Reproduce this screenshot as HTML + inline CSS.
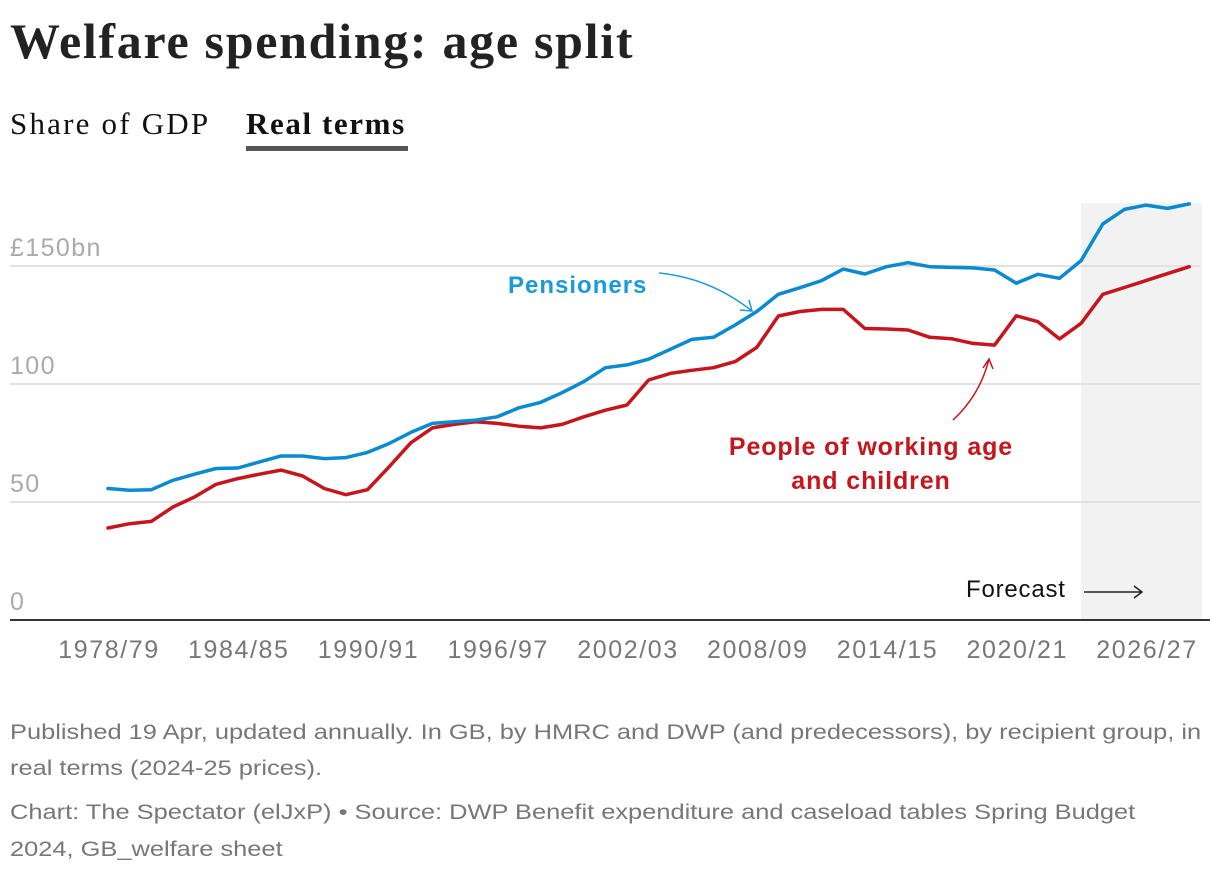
<!DOCTYPE html>
<html><head><meta charset="utf-8">
<style>
body{margin:0;background:#fff;width:1220px;height:874px;overflow:hidden;font-family:"Liberation Sans",sans-serif;}
.title{position:absolute;left:10px;top:12px;font-family:"Liberation Serif",serif;font-weight:bold;font-size:50px;color:#222;letter-spacing:1.7px;white-space:nowrap;}
.tab{position:absolute;top:106px;font-family:"Liberation Serif",serif;font-size:31px;color:#111;white-space:nowrap;}
.foot{position:absolute;left:10px;font-size:21px;color:#777;line-height:36px;white-space:nowrap;transform:scaleX(1.21);transform-origin:0 0;}
</style></head><body>
<div class="title">Welfare spending: age split</div>
<div class="tab" style="left:10px;letter-spacing:2.2px">Share of GDP</div>
<div class="tab" style="left:246px;font-weight:bold;letter-spacing:1.6px">Real terms</div>
<div style="position:absolute;left:246px;top:146px;width:162px;height:5px;background:#555"></div>
<svg id="chart" width="1220" height="874" style="position:absolute;left:0;top:0"></svg>
<div class="foot" style="top:715px">Published 19 Apr, updated annually. In GB, by HMRC and DWP (and predecessors), by recipient group, in<br>real terms (2024-25 prices).</div>
<div class="foot" style="top:794px;line-height:37px">Chart: The Spectator (elJxP) • Source: DWP Benefit expenditure and caseload tables Spring Budget<br>2024, GB_welfare sheet</div>
<script>
const startYear = 1978;
const pensioners = [55.7,55.0,55.2,59.2,61.8,64.2,64.4,67.0,69.5,69.5,68.4,68.8,71.0,74.8,79.5,83.3,84.0,84.7,86.1,89.9,92.2,96.3,101.0,106.9,108.1,110.5,114.7,118.9,119.8,125.0,130.7,138.0,140.8,143.8,148.7,146.6,149.7,151.4,149.7,149.4,149.2,148.3,142.7,146.5,144.8,152.3,167.8,174.0,175.8,174.4,176.3];
const workingAge = [39.0,40.8,41.8,47.9,52.1,57.5,59.9,61.8,63.5,61.0,55.7,53.1,55.2,64.9,75.1,81.4,82.9,84.0,83.3,82.1,81.4,82.9,86.1,88.9,91.1,101.7,104.5,105.8,106.9,109.5,115.5,128.8,130.7,131.6,131.6,123.5,123.3,122.9,119.8,119.2,117.2,116.5,128.9,126.4,119.1,125.7,138.0,140.9,143.8,146.8,149.7];
const yTicks = [0,50,100,150];
const yTickLabels = ["0","50","100","£150bn"];
const xTickYears = [1978,1984,1990,1996,2002,2008,2014,2020,2026];
const forecastStart = 2023;

const svg = document.getElementById('chart');
const NS = 'http://www.w3.org/2000/svg';
const x = yr => 108 + (yr - startYear) * 21.625;
const y = v => 620 - v * 2.36;
function mk(tag, attrs){const e=document.createElementNS(NS,tag);for(const k in attrs)e.setAttribute(k,attrs[k]);svg.appendChild(e);return e;}

const fc = mk('rect',{x:x(forecastStart),y:203,width:1202-x(forecastStart),height:417,fill:'#f2f2f2'});



yTicks.forEach((t,i)=>{
  if(t>0){const g=mk('line',{x1:10,x2:1200,y1:y(t),y2:y(t),stroke:'#e2e2e2','stroke-width':2});
  
  }
  const l=mk('text',{x:10,y:y(t)-10,fill:'#aaa','font-size':25,'letter-spacing':1.4});
  l.textContent=yTickLabels[i];
  
  
});
xTickYears.forEach(yr=>{
  const l=mk('text',{x:x(yr)+1,y:658,fill:'#777','font-size':25,'letter-spacing':1.6,'text-anchor':'middle'});
  l.textContent=yr+'/'+String((yr+1)%100).padStart(2,'0');
  
  
});
const ax=mk('line',{x1:10,x2:1210,y1:620,y2:620,stroke:'#333','stroke-width':2});



const ft=mk('text',{x:966,y:597,fill:'#111','font-size':24,'letter-spacing':0.8});
ft.textContent='Forecast';


const fa=mk('path',{d:'M1084 592 H1142 M1134 586 L1142 592 L1134 598',stroke:'#222','stroke-width':1.5,fill:'none'});



function series(arr,color,name){
  const d=arr.map((v,i)=>(i?'L':'M')+x(startYear+i).toFixed(1)+' '+y(v).toFixed(1)).join(' ');
  const p=mk('path',{d:d,stroke:color,'stroke-width':3.5,fill:'none','stroke-linejoin':'round','stroke-linecap':'round'});
  
  
}
series(workingAge,'#c4161c','working-age-line');
series(pensioners,'#0a8bd0','pensioners-line');

const pl=mk('text',{x:508,y:293,fill:'#1a9bd7','font-size':24,'font-weight':'bold','letter-spacing':1});
pl.textContent='Pensioners';


const pa=mk('path',{d:'M659 273 Q710 278 752 311 M740 310 L752 311 L749 300',stroke:'#1a9bd7','stroke-width':1.5,fill:'none'});



['People of working age','and children'].forEach((s,i)=>{
  const t=mk('text',{x:871,y:455+i*34,fill:'#c4161c','font-size':25,'font-weight':'bold','letter-spacing':0.9,'text-anchor':'middle'});
  t.textContent=s;
  
  
});
const ra=mk('path',{d:'M953 420 Q980 395 989 359 M983 368 L989 359 L993 369',stroke:'#c4161c','stroke-width':1.5,fill:'none'});


</script>
</body></html>
